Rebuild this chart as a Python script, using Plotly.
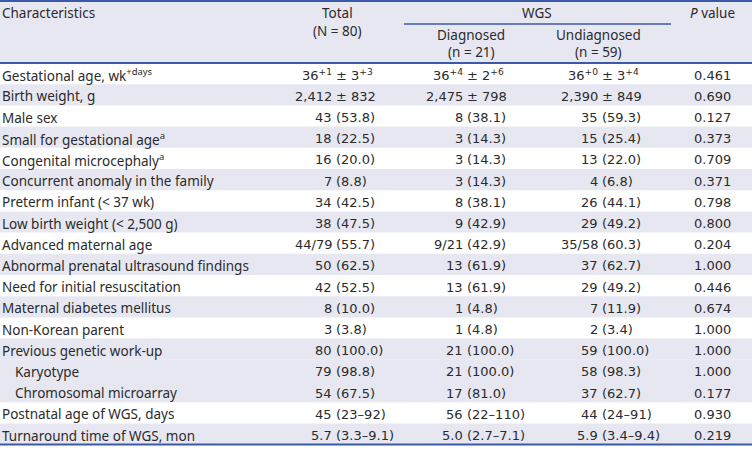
import plotly.graph_objects as go

# ---------------- data ----------------
characteristics = [
    "Gestational age, wk<sup>+days</sup>",
    "Birth weight, g",
    "Male sex",
    "Small for gestational age<sup>a</sup>",
    "Congenital microcephaly<sup>a</sup>",
    "Concurrent anomaly in the family",
    "Preterm infant (< 37 wk)",
    "Low birth weight (< 2,500 g)",
    "Advanced maternal age",
    "Abnormal prenatal ultrasound findings",
    "Need for initial resuscitation",
    "Maternal diabetes mellitus",
    "Non-Korean parent",
    "Previous genetic work-up",
    "Karyotype",
    "Chromosomal microarray",
    "Postnatal age of WGS, days",
    "Turnaround time of WGS, mon",
]
total = [
    "36<sup>+1</sup> ± 3<sup>+3</sup>", "2,412 ± 832", "43 (53.8)", "18 (22.5)", "16 (20.0)",
    "7 (8.8)", "34 (42.5)", "38 (47.5)", "44/79 (55.7)", "50 (62.5)", "42 (52.5)",
    "8 (10.0)", "3 (3.8)", "80 (100.0)", "79 (98.8)", "54 (67.5)", "45 (23–92)",
    "5.7 (3.3–9.1)",
]
diagnosed = [
    "36<sup>+4</sup> ± 2<sup>+6</sup>", "2,475 ± 798", "8 (38.1)", "3 (14.3)", "3 (14.3)",
    "3 (14.3)", "8 (38.1)", "9 (42.9)", "9/21 (42.9)", "13 (61.9)", "13 (61.9)",
    "1 (4.8)", "1 (4.8)", "21 (100.0)", "21 (100.0)", "17 (81.0)", "56 (22–110)",
    "5.0 (2.7–7.1)",
]
undiagnosed = [
    "36<sup>+0</sup> ± 3<sup>+4</sup>", "2,390 ± 849", "35 (59.3)", "15 (25.4)", "13 (22.0)",
    "4 (6.8)", "26 (44.1)", "29 (49.2)", "35/58 (60.3)", "37 (62.7)", "29 (49.2)",
    "7 (11.9)", "2 (3.4)", "59 (100.0)", "58 (98.3)", "37 (62.7)", "44 (24–91)",
    "5.9 (3.4–9.4)",
]
p_values = [
    "0.461", "0.690", "0.127", "0.373", "0.709", "0.371", "0.798", "0.800", "0.204",
    "1.000", "0.446", "0.674", "1.000", "1.000", "1.000", "0.177", "0.930", "0.219",
]
header_total = ["Total", "(N = 80)"]
header_group = "WGS"
header_diag = ["Diagnosed", "(n = 21)"]
header_undiag = ["Undiagnosed", "(n = 59)"]
header_p = "<i>P</i> value"
header_char = "Characteristics"

# ---------------- style ----------------
sub_rows = {"Karyotype", "Chromosomal microarray"}
shade_rows = {1, 3, 5, 7, 9, 11, 13, 14, 15, 17}
W, H = 752, 450
BLUE = "#3a5aa8"
SHADE = "#e7e7f2"
TXT = "#2b2b2b"
FONT = "Noto Sans"
NUMFONT = "DejaVu Sans"
FS = 13.5
NFS = 13
HEAD_BOTTOM = 63
ROW_H = 21.2
col_split = {"total": 336, "diag": 467, "undiag": 602}
GAP = 4
P_X = 712

shapes = []
annotations = []

def txt(x, y, s, anchor="left", family=FONT, size=FS):
    annotations.append(dict(x=x, y=y, xref="x", yref="y", text=s, showarrow=False,
                            xanchor=anchor, yanchor="middle", borderpad=0, borderwidth=0,
                            font=dict(family=family, size=size, color=TXT)))

# header background
shapes.append(dict(type="rect", x0=0, x1=W, y0=1, y1=HEAD_BOTTOM, fillcolor=SHADE,
                   line=dict(width=0), layer="below"))
# row backgrounds
n = len(characteristics)
for i in range(n):
    if i in shade_rows:
        y0 = HEAD_BOTTOM + i * ROW_H
        shapes.append(dict(type="rect", x0=0, x1=W, y0=y0, y1=y0 + ROW_H,
                           fillcolor=SHADE, line=dict(width=0), layer="below"))
# rules
for y in (1, HEAD_BOTTOM, HEAD_BOTTOM + n * ROW_H):
    shapes.append(dict(type="line", x0=0, x1=W, y0=y, y1=y, line=dict(color=BLUE, width=2)))
shapes.append(dict(type="line", x0=404, x1=671, y0=24, y1=24, line=dict(color=BLUE, width=1.5)))

# header texts
txt(2, 13, header_char)
txt(337, 13, header_total[0], "center")
txt(337, 31, header_total[1], "center")
txt(537, 13, header_group, "center")
txt(471, 35, header_diag[0], "center")
txt(471, 52, header_diag[1], "center")
txt(598, 35, header_undiag[0], "center")
txt(598, 52, header_undiag[1], "center")
txt(P_X, 13, header_p, "center")

def split_cell(s):
    for sep in (" (", " ± "):
        k = s.find(sep)
        if k >= 0:
            return s[:k], s[k + 1:]
    return s, ""

for i in range(n):
    yc = HEAD_BOTTOM + (i + 0.5) * ROW_H + 1.5
    label = characteristics[i]
    txt(15 if label in sub_rows else 2, yc, label)
    for key, col in (("total", total), ("diag", diagnosed), ("undiag", undiagnosed)):
        left, right = split_cell(col[i])
        xs = col_split[key]
        txt(xs - GAP, yc, left, "right", NUMFONT, NFS)
        if right:
            txt(xs, yc, right, "left", NUMFONT, NFS)
    txt(P_X, yc, p_values[i], "center", NUMFONT, NFS)

fig = go.Figure()
fig.update_layout(
    width=W, height=H, margin=dict(l=0, r=0, t=0, b=0),
    paper_bgcolor="white", plot_bgcolor="white",
    xaxis=dict(range=[0, W], visible=False, fixedrange=True),
    yaxis=dict(range=[H, 0], visible=False, fixedrange=True),
    shapes=shapes, annotations=annotations, showlegend=False,
)
fig.write_html(
    "out.html",
    config={"displayModeBar": False},
    post_script="document.body.style.margin='0';document.body.style.overflow='hidden';",
)
